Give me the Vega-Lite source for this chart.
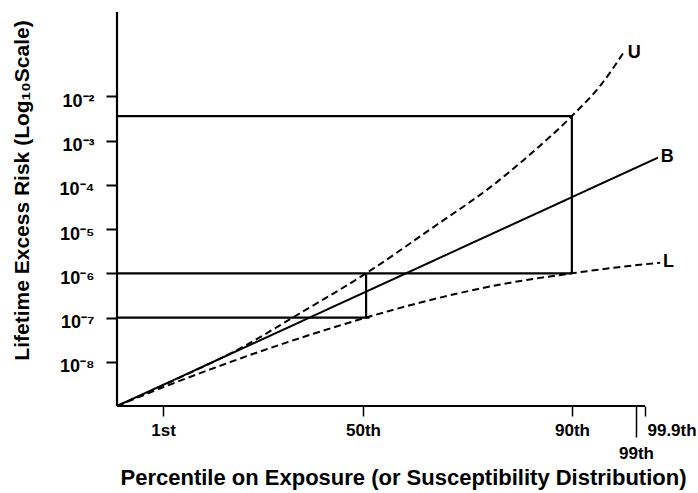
{
  "$schema": "https://vega.github.io/schema/vega-lite/v6.json",
  "width": 570,
  "height": 398,
  "autosize": {"type": "none"},
  "padding": {"left": 117, "top": 8, "right": 11, "bottom": 87},
  "background": "white",
  "config": {"view": {"stroke": null}, "font": "Liberation Sans"},
  "datasets": {
    "curves": [
      {"series": "B", "pos": 0, "risk": 1e-9},
      {"series": "B", "pos": 94.9, "risk": 0.000413},
      {"series": "U", "pos": 0, "risk": 1e-9},
      {"series": "U", "pos": 11, "risk": 4.37e-9},
      {"series": "U", "pos": 22, "risk": 2.14e-8},
      {"series": "U", "pos": 32, "risk": 1.23e-7},
      {"series": "U", "pos": 43.7, "risk": 1e-6},
      {"series": "U", "pos": 55, "risk": 1e-5},
      {"series": "U", "pos": 66.7, "risk": 0.000117},
      {"series": "U", "pos": 73, "risk": 0.00056},
      {"series": "U", "pos": 79.8, "risk": 0.0036},
      {"series": "U", "pos": 85, "risk": 0.019},
      {"series": "U", "pos": 88.8, "risk": 0.095},
      {"series": "L", "pos": 0, "risk": 1e-9},
      {"series": "L", "pos": 10, "risk": 3.3e-9},
      {"series": "L", "pos": 20, "risk": 1e-8},
      {"series": "L", "pos": 32, "risk": 3.4e-8},
      {"series": "L", "pos": 43.7, "risk": 1e-7},
      {"series": "L", "pos": 55, "risk": 2.5e-7},
      {"series": "L", "pos": 67, "risk": 5.5e-7},
      {"series": "L", "pos": 79.8, "risk": 1e-6},
      {"series": "L", "pos": 88, "risk": 1.38e-6},
      {"series": "L", "pos": 95.3, "risk": 1.74e-6}
    ],
    "segments": [
      {"pos": 0, "pos2": 79.8, "risk": 0.0036, "risk2": 0.0036},
      {"pos": 0, "pos2": 79.8, "risk": 1e-6, "risk2": 1e-6},
      {"pos": 0, "pos2": 44.3, "risk": 1e-7, "risk2": 1e-7},
      {"pos": 79.8, "pos2": 79.8, "risk": 1e-6, "risk2": 0.0036},
      {"pos": 43.7, "pos2": 43.7, "risk": 1e-7, "risk2": 1e-6},
      {"pos": 0, "pos2": 92.63, "risk": 1e-9, "risk2": 1e-9},
      {"pos": 0, "pos2": 0, "risk": 1e-9, "risk2": 0.81}
    ],
    "labels": [
      {"pos": 89.6, "risk": 0.096, "text": "U"},
      {"pos": 95.4, "risk": 0.00043, "text": "B"},
      {"pos": 95.8, "risk": 1.8e-6, "text": "L"}
    ]
  },
  "encoding": {
    "x": {
      "field": "pos", "type": "quantitative",
      "scale": {"domain": [0, 100], "nice": false, "zero": false},
      "axis": {
        "values": [8.07, 43.16, 79.82, 91.05, 92.63],
        "labelExpr": "datum.value < 20 ? '1st' : datum.value < 60 ? '50th' : datum.value < 85 ? '90th' : datum.value < 92 ? '99th' : '99.9th'",
        "domain": false,
        "grid": false,
        "tickColor": "black",
        "tickWidth": 1.5,
        "tickSize": {"condition": {"test": "datum.value > 90 && datum.value < 92", "value": 31}, "value": 10},
        "labelPadding": {"condition": {"test": "datum.value > 90 && datum.value < 92", "value": 8}, "value": 6},
        "labelAlign": {"condition": {"test": "datum.value > 92", "value": "left"}, "value": "center"},
        "labelOffset": {"condition": {"test": "datum.value > 92", "value": 2}, "value": 0},
        "labelFont": "Liberation Sans",
        "labelFontSize": 17,
        "labelFontWeight": "bold",
        "labelColor": "black",
        "labelFlush": false,
        "labelOverlap": false,
        "title": "Percentile on Exposure (or Susceptibility Distribution)",
        "titleFont": "Liberation Sans",
        "titleFontSize": 22,
        "titleFontWeight": "bold",
        "titleColor": "black",
        "titleX": 286,
        "titleY": 71,
        "titleAlign": "center",
        "titleAnchor": null,
        "titleBaseline": "middle"
      }
    },
    "y": {
      "field": "risk", "type": "quantitative",
      "scale": {"type": "log", "domain": [1e-9, 1], "nice": false},
      "axis": {
        "values": [0.01, 0.001, 0.0001, 0.00001, 0.000001, 0.0000001, 0.00000001],
        "labelExpr": "'10' + ['⁰','⁻¹','⁻²','⁻³','⁻⁴','⁻⁵','⁻⁶','⁻⁷','⁻⁸'][round(-log(datum.value)/LN10)]",
        "domain": false,
        "grid": false,
        "tickColor": "black",
        "tickWidth": 2,
        "tickSize": 11,
        "labelPadding": 12,
        "labelOffset": 5,
        "labelFont": "Liberation Sans",
        "labelFontSize": 18,
        "labelFontWeight": "bold",
        "labelColor": "black",
        "labelFlush": false,
        "labelOverlap": false,
        "title": "Lifetime Excess Risk (Log₁₀Scale)",
        "titleFont": "Liberation Sans",
        "titleFontSize": 21,
        "titleFontWeight": "bold",
        "titleColor": "black",
        "titleX": -95,
        "titleY": 182,
        "titleAngle": -90,
        "titleAlign": "center",
        "titleAnchor": null,
        "titleBaseline": "middle"
      }
    }
  },
  "layer": [
    {
      "data": {"name": "segments"},
      "mark": {"type": "rule", "color": "black", "strokeWidth": 2.2},
      "encoding": {
        "x2": {"field": "pos2"},
        "y2": {"field": "risk2"}
      }
    },
    {
      "data": {"name": "curves"},
      "mark": {"type": "line", "color": "black", "strokeWidth": 2, "interpolate": "monotone"},
      "encoding": {
        "strokeDash": {
          "field": "series", "type": "nominal",
          "scale": {"domain": ["B", "U", "L"], "range": [[1, 0], [7, 4], [7, 4]]},
          "legend": null
        }
      }
    },
    {
      "data": {"name": "labels"},
      "mark": {"type": "text", "align": "left", "baseline": "middle", "fontSize": 18, "fontWeight": "bold", "font": "Liberation Sans", "color": "black"},
      "encoding": {
        "text": {"field": "text"}
      }
    }
  ]
}
